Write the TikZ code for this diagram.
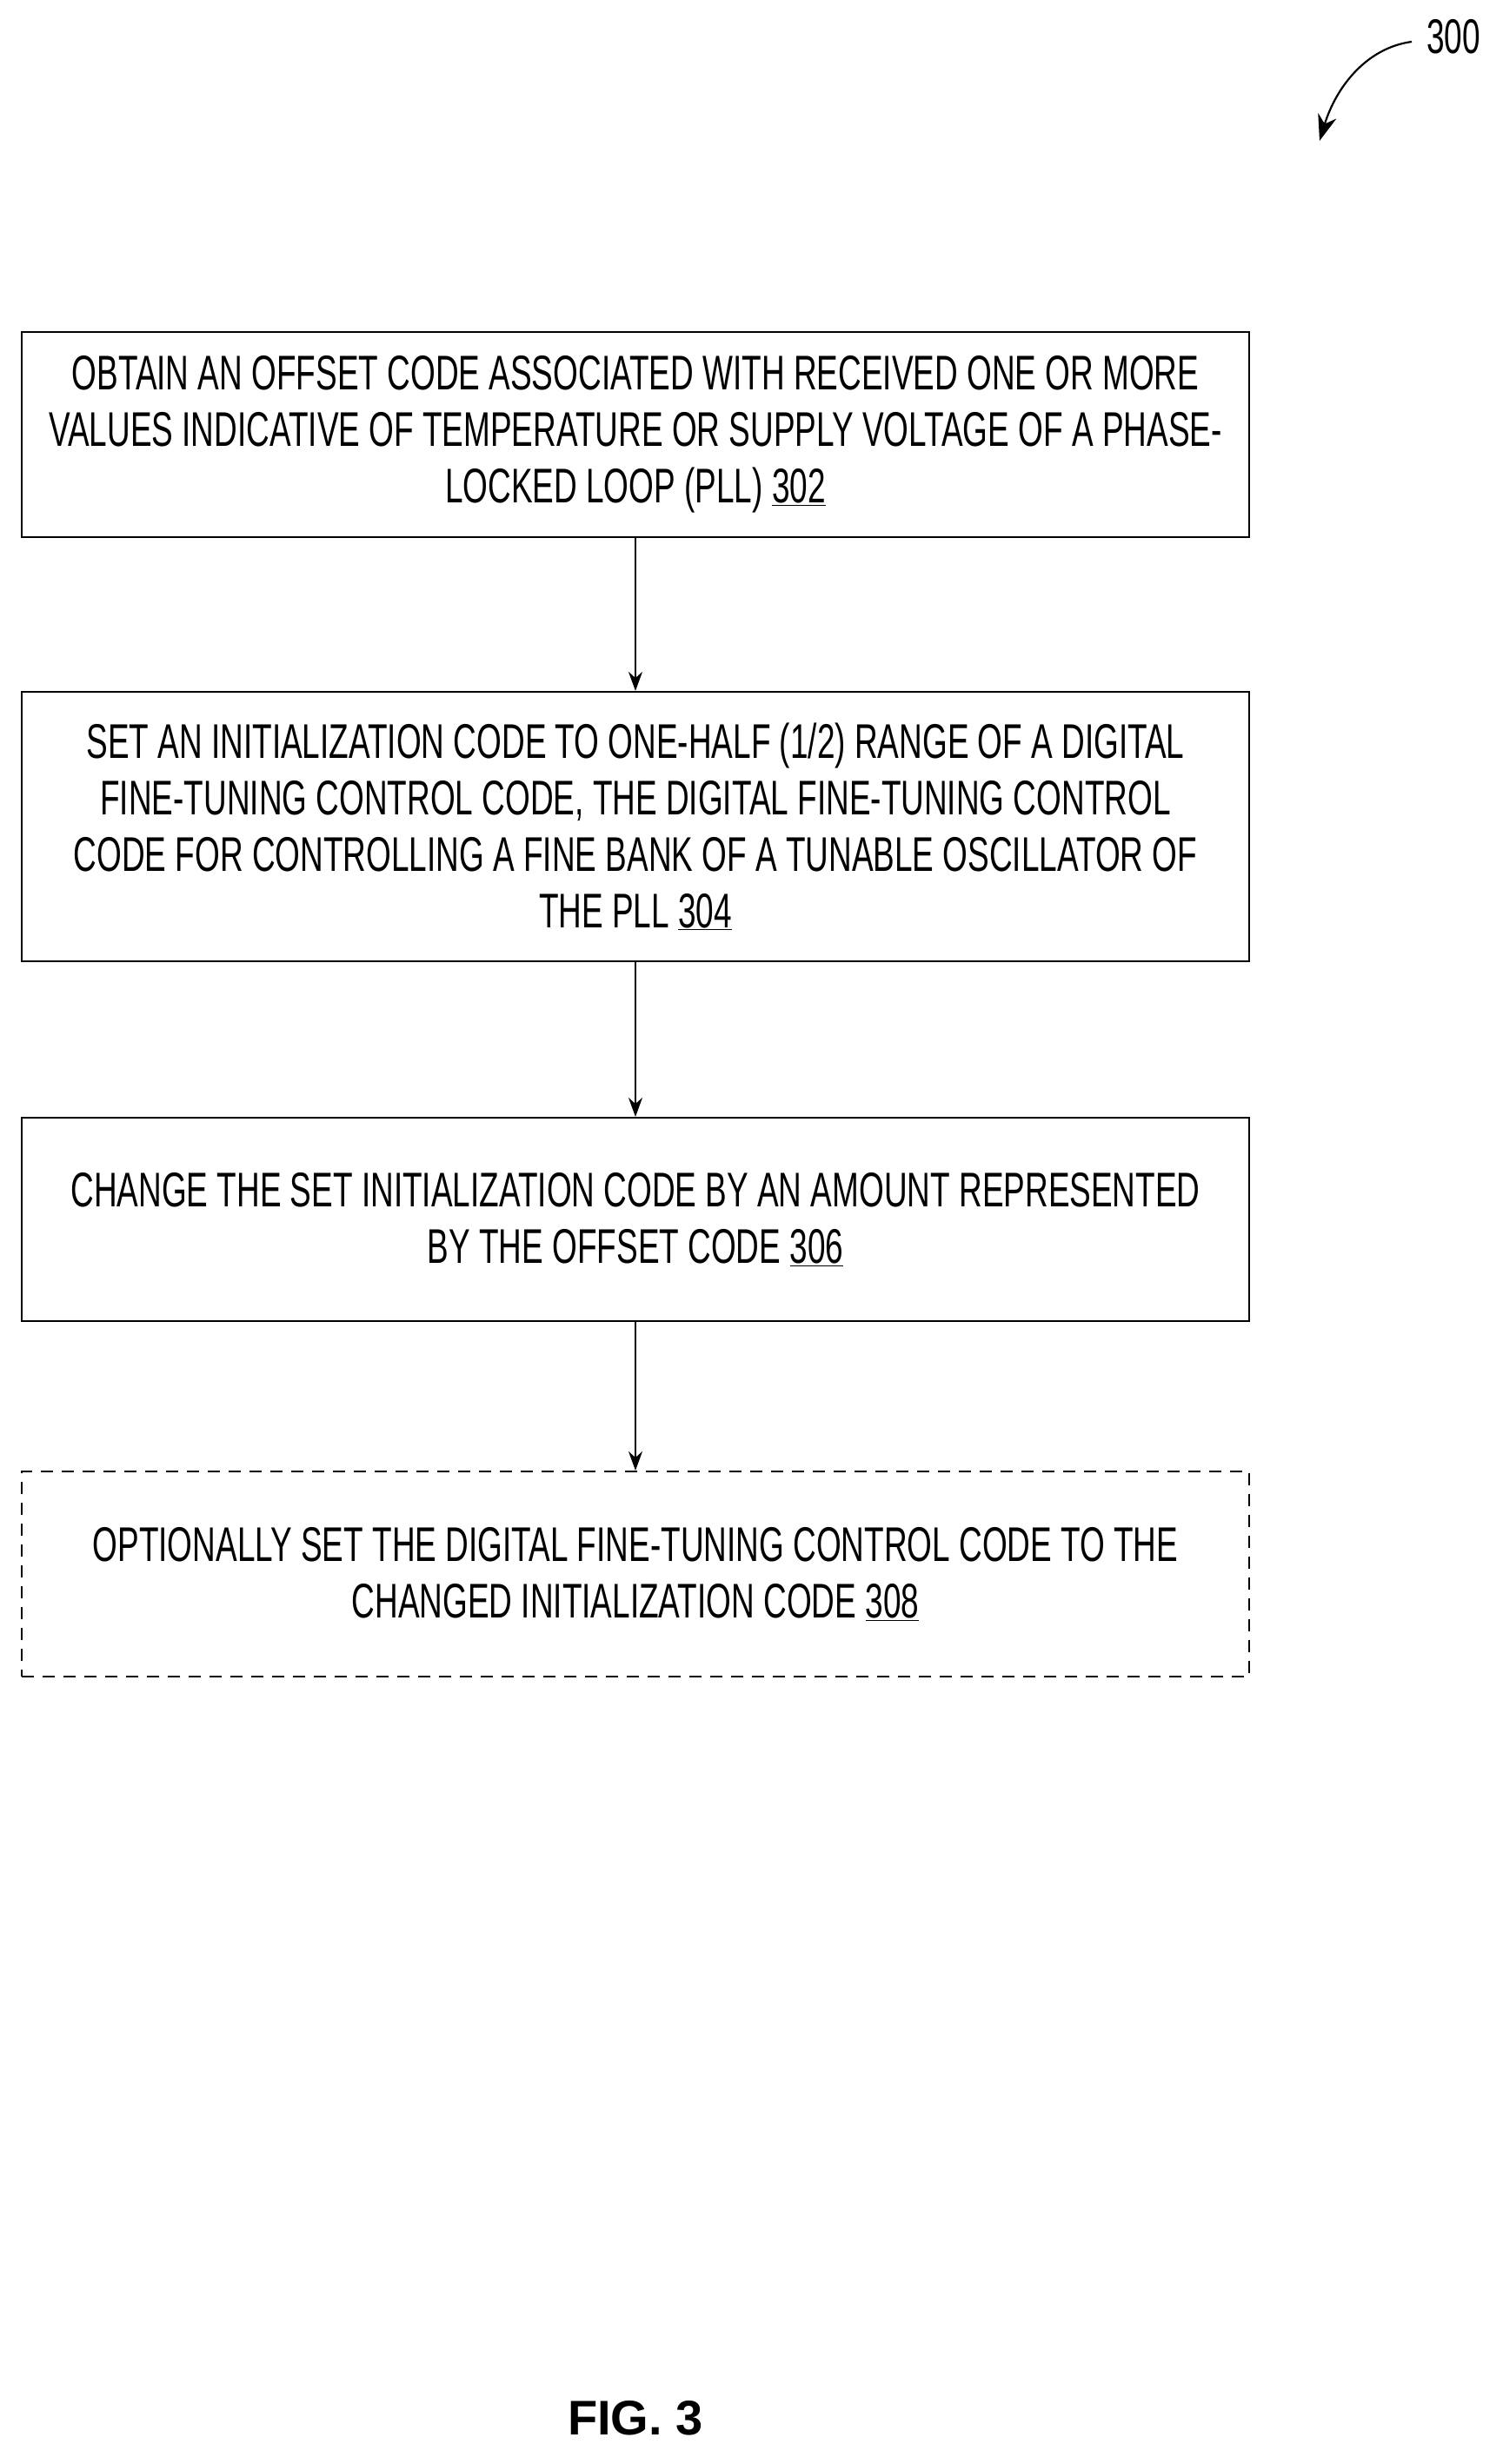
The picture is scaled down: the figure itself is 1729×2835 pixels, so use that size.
\documentclass[tikz,border=0pt]{standalone}
\usepackage{fontspec}
\setmainfont[FakeStretch=0.66]{Liberation Sans}
\newfontfamily\figfont{Liberation Sans}
\usetikzlibrary{arrows.meta}
\begin{document}
\begin{tikzpicture}[x=1pt,y=-1pt,
  stepbox/.style={draw,line width=2.2pt,minimum width=1412pt,align=center,font=\fontsize{56}{65}\selectfont,inner sep=0pt},
  conn/.style={line width=2pt,-{Stealth[length=22pt,width=16pt]}}]
\useasboundingbox (0,0) rectangle (1729,2835);
\node[stepbox,minimum height=236pt] (b1) at (731,500) {OBTAIN AN OFFSET CODE ASSOCIATED WITH RECEIVED ONE OR MORE\\VALUES INDICATIVE OF TEMPERATURE OR SUPPLY VOLTAGE OF A PHASE-\\LOCKED LOOP (PLL) \underline{302}};
\node[stepbox,minimum height=310pt] (b2) at (731,951) {SET AN INITIALIZATION CODE TO ONE-HALF (1/2) RANGE OF A DIGITAL\\FINE-TUNING CONTROL CODE, THE DIGITAL FINE-TUNING CONTROL\\CODE FOR CONTROLLING A FINE BANK OF A TUNABLE OSCILLATOR OF\\THE PLL \underline{304}};
\node[stepbox,minimum height=234pt] (b3) at (731,1403) {CHANGE THE SET INITIALIZATION CODE BY AN AMOUNT REPRESENTED\\BY THE OFFSET CODE \underline{306}};
\node[stepbox,minimum height=236pt,dash pattern=on 14pt off 10pt] (b4) at (731,1811) {OPTIONALLY SET THE DIGITAL FINE-TUNING CONTROL CODE TO THE\\CHANGED INITIALIZATION CODE \underline{308}};
\draw[conn] (b1) -- (b2);
\draw[conn] (b2) -- (b3);
\draw[conn] (b3) -- (b4);
\node[font=\fontsize{56}{60}\selectfont] (lbl) at (1672,42) {300};
\coordinate (tip) at (1518,162);
\draw[line width=2.2pt,-{Stealth[length=30pt,width=22pt]}] (1624,48) .. controls (1572,55) and (1537,100) .. (tip);
\node[font=\figfont\bfseries\fontsize{56}{60}\selectfont] (fig) at (731,2782) {FIG. 3};
\end{tikzpicture}
\end{document}
